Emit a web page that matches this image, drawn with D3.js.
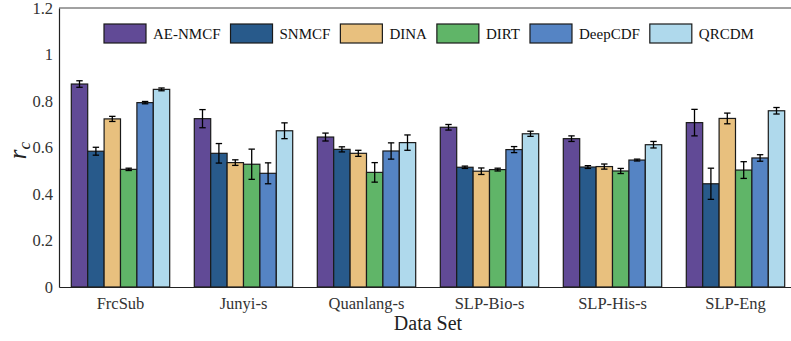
<!DOCTYPE html>
<html>
<head>
<meta charset="utf-8">
<script src="https://cdn.jsdelivr.net/npm/d3@7"></script>
<style>
  body { margin: 0; background: #fff; }
  svg { display: block; font-family: 'Liberation Serif', 'DejaVu Serif', serif; }
</style>
</head>
<body>
<div id="chart"></div>
<script>
// Dati
const datasets = ['FrcSub', 'Junyi-s', 'Quanlang-s', 'SLP-Bio-s', 'SLP-His-s', 'SLP-Eng'];
const models = ['AE-NMCF', 'SNMCF', 'DINA', 'DIRT', 'DeepCDF', 'QRCDM'];
const colors = ['#614a96', '#285a8b', '#e8c07e', '#60b568', '#5584c4', '#afd9ec'];

const aeNmcf  = [0.873, 0.724, 0.645, 0.687, 0.638, 0.707];
const snmcf   = [0.584, 0.575, 0.592, 0.515, 0.516, 0.444];
const dina    = [0.723, 0.535, 0.575, 0.498, 0.518, 0.725];
const dirt    = [0.506, 0.528, 0.493, 0.505, 0.499, 0.503];
const deepCdf = [0.793, 0.489, 0.585, 0.591, 0.546, 0.555];
const qrcdm   = [0.850, 0.672, 0.621, 0.659, 0.612, 0.758];

const aeNmcfErr  = [0.014, 0.039, 0.017, 0.012, 0.012, 0.057];
const snmcfErr   = [0.017, 0.042, 0.011, 0.005, 0.006, 0.067];
const dinaErr    = [0.011, 0.012, 0.013, 0.014, 0.011, 0.023];
const dirtErr    = [0.005, 0.065, 0.042, 0.006, 0.011, 0.036];
const deepCdfErr = [0.005, 0.045, 0.035, 0.013, 0.004, 0.014];
const qrcdmErr   = [0.006, 0.034, 0.033, 0.011, 0.014, 0.014];

const yTicks = [0, 0.2, 0.4, 0.6, 0.8, 1, 1.2];

const values = [aeNmcf, snmcf, dina, dirt, deepCdf, qrcdm];
const errors = [aeNmcfErr, snmcfErr, dinaErr, dirtErr, deepCdfErr, qrcdmErr];

// Dimensioni
const W = 791, H = 341;
const margin = { top: 8, right: -6, bottom: 54, left: 59 };
const width = W - margin.left - margin.right;
const height = H - margin.top - margin.bottom;

const svg = d3.select('#chart').append('svg')
    .attr('width', W)
    .attr('height', H);

const g = svg.append('g')
    .attr('transform', `translate(${margin.left},${margin.top})`);

// Scale
const x0 = d3.scaleBand()
    .domain(datasets)
    .range([0, width])
    .paddingInner(0.2)
    .paddingOuter(0.1);

const x1 = d3.scaleBand()
    .domain(models)
    .range([0, x0.bandwidth()]);

const y = d3.scaleLinear()
    .domain([0, 1.2])
    .range([height, 0]);

// Barre
const rows = [];
datasets.forEach((ds, i) => {
    models.forEach((m, j) => {
        rows.push({ ds, m, j, v: values[j][i], e: errors[j][i] });
    });
});

g.selectAll('rect.bar')
    .data(rows)
    .enter().append('rect')
    .attr('class', 'bar')
    .attr('x', d => x0(d.ds) + x1(d.m))
    .attr('y', d => y(d.v))
    .attr('width', x1.bandwidth())
    .attr('height', d => y(0) - y(d.v))
    .attr('fill', d => colors[d.j])
    .attr('stroke', '#1a1a1a')
    .attr('stroke-width', 1.2);

// Barre di errore
const cap = 3.2;
const cx = d => x0(d.ds) + x1(d.m) + x1.bandwidth() / 2;
const eb = g.selectAll('g.err')
    .data(rows)
    .enter().append('g')
    .attr('class', 'err')
    .attr('stroke', '#000')
    .attr('stroke-width', 1.3);

eb.append('line')
    .attr('x1', cx)
    .attr('x2', cx)
    .attr('y1', d => y(d.v - d.e))
    .attr('y2', d => y(d.v + d.e));
eb.append('line')
    .attr('x1', d => cx(d) - cap)
    .attr('x2', d => cx(d) + cap)
    .attr('y1', d => y(d.v + d.e))
    .attr('y2', d => y(d.v + d.e));
eb.append('line')
    .attr('x1', d => cx(d) - cap)
    .attr('x2', d => cx(d) + cap)
    .attr('y1', d => y(d.v - d.e))
    .attr('y2', d => y(d.v - d.e));

// Assi
const yAxis = g.append('g')
    .call(d3.axisLeft(y).tickValues(yTicks).tickSize(0).tickPadding(6).tickFormat(d3.format('~g')));
yAxis.select('.domain').attr('stroke', '#222').attr('stroke-width', 1.2);
yAxis.selectAll('text')
    .style('font-family', "'Liberation Serif', serif")
    .style('font-size', '16.5px')
    .attr('fill', '#333');

const xAxis = g.append('g')
    .attr('transform', `translate(0,${height})`)
    .call(d3.axisBottom(x0).tickSize(0).tickPadding(10));
xAxis.select('.domain').attr('stroke', '#222').attr('stroke-width', 1.2);
xAxis.selectAll('text')
    .style('font-family', "'Liberation Serif', serif")
    .style('font-size', '16.5px')
    .attr('fill', '#333');

// bordo superiore
g.append('line')
    .attr('x1', 0).attr('x2', width)
    .attr('y1', 0).attr('y2', 0)
    .attr('stroke', '#444')
    .attr('stroke-width', 1);

// Etichette assi
g.append('text')
    .attr('x', width / 2)
    .attr('y', height + 43)
    .style('text-anchor', 'middle')
    .style('font-size', '20px')
    .attr('fill', '#222')
    .text('Data Set');

const yl = svg.append('text')
    .attr('transform', `translate(26,${margin.top + height / 2 + 3}) rotate(-90)`)
    .style('text-anchor', 'middle')
    .style('font-style', 'italic')
    .style('font-size', '25px')
    .attr('fill', '#222');
yl.append('tspan').text('r');
yl.append('tspan').attr('dy', 4).style('font-size', '17px').text('c');

// Legenda
const legend = svg.append('g')
    .attr('transform', 'translate(104,24)');
let lx = 0;
models.forEach((m, i) => {
    const item = legend.append('g').attr('transform', `translate(${lx},0)`);
    item.append('rect')
        .attr('width', 42)
        .attr('height', 19)
        .attr('fill', colors[i])
        .attr('stroke', '#1a1a1a')
        .attr('stroke-width', 1.2);
    const t = item.append('text')
        .attr('x', 49)
        .attr('y', 15)
        .style('font-size', '15px')
        .attr('fill', '#111')
        .text(m);
    lx += 49 + t.node().getComputedTextLength() + 10;
});
</script>
</body>
</html>
